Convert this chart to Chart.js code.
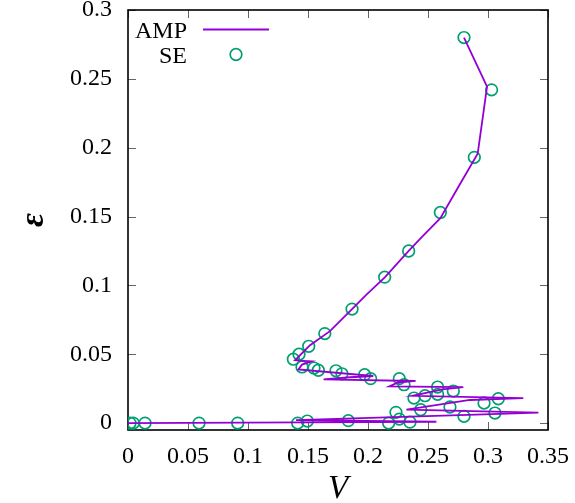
<!DOCTYPE html>
<html><head><meta charset="utf-8">
<style>html,body{margin:0;padding:0;background:#fff}#wrap{width:575px;height:503px}</style>
<script src="https://cdn.jsdelivr.net/npm/chart.js@4"></script>
</head><body><div id="wrap"><canvas id="c" width="575" height="503"></canvas></div>
<script>
const xTicks = [0, 0.05, 0.1, 0.15, 0.2, 0.25, 0.3, 0.35];
const xTickLabels = ['0', '0.05', '0.1', '0.15', '0.2', '0.25', '0.3', '0.35'];
const yTicks = [0, 0.05, 0.1, 0.15, 0.2, 0.25, 0.3];
const yTickLabels = ['0', '0.05', '0.1', '0.15', '0.2', '0.25', '0.3'];

// AMP trajectory (in drawing order)
const ampV = [0.280, 0.2992, 0.2914, 0.2767, 0.2603, 0.2458, 0.2339, 0.2142, 0.1983, 0.1867, 0.1683, 0.1517, 0.1392,
  0.153, 0.145, 0.142, 0.2044, 0.185, 0.163, 0.2397, 0.225, 0.2178, 0.2794, 0.262, 0.237, 0.3294, 0.285, 0.232, 0.342, 0.29, 0.140, 0.257, 0.145, 0.0];
const ampE = [0.280, 0.2443, 0.1956, 0.1737, 0.1488, 0.1359, 0.125, 0.106, 0.093, 0.0828, 0.0668, 0.0566, 0.0456,
  0.0448, 0.0425, 0.0390, 0.0342, 0.0333, 0.0318, 0.0306, 0.0295, 0.0266, 0.0262, 0.0245, 0.0198, 0.0182, 0.0168, 0.0098, 0.0076, 0.0062, 0.0022, 0.0010, 0.0005, 0.0];

// SE points
const seV = [0.280, 0.303, 0.2886, 0.2603, 0.2339, 0.2139, 0.1867, 0.164, 0.1506, 0.1425, 0.1378, 0.145, 0.155, 0.1586,
  0.1733, 0.1783, 0.1972, 0.2022, 0.2261, 0.230, 0.258, 0.258, 0.2711, 0.2475, 0.2383, 0.3086, 0.2967, 0.2683, 0.2439,
  0.2233, 0.3058, 0.280, 0.2261, 0.235, 0.2172, 0.1836, 0.1494, 0.1414, 0.0914, 0.0592, 0.0142, 0.0044, 0.0017];
const seE = [0.280, 0.242, 0.193, 0.153, 0.125, 0.106, 0.0828, 0.065, 0.0558, 0.050, 0.0464, 0.0408, 0.040, 0.0384,
  0.0380, 0.0358, 0.0352, 0.0323, 0.0323, 0.0279, 0.0262, 0.0209, 0.0233, 0.0199, 0.0182, 0.0177, 0.0146, 0.0117, 0.0097,
  0.0078, 0.0073, 0.0049, 0.0029, 0.0007, 0.0, 0.0018, 0.0015, 0.0, 0.0, 0.0, 0.0, 0.0, 0.0];

const PURPLE = '#9400d3';
const GREEN = '#009e73';
const SERIF = '"Liberation Serif", "DejaVu Serif", serif';

const zeroPad = s => { s.paddingTop = 0; s.paddingBottom = 0; s.paddingLeft = 0; s.paddingRight = 0; };

const framePlugin = {
  id: 'frame',
  beforeDatasetsDraw(chart) {
    const {ctx, chartArea: a, scales: {x, y}} = chart;
    ctx.save();
    ctx.strokeStyle = '#666';
    ctx.lineWidth = 1;
    ctx.beginPath();
    const L = 8;
    x.ticks.forEach(t => {
      const px = Math.round(x.getPixelForValue(t.value)) + 0.5;
      ctx.moveTo(px, a.bottom); ctx.lineTo(px, a.bottom - L);
      ctx.moveTo(px, a.top); ctx.lineTo(px, a.top + L);
    });
    y.ticks.forEach(t => {
      const py = Math.round(y.getPixelForValue(t.value)) + 0.5;
      ctx.moveTo(a.left, py); ctx.lineTo(a.left + L, py);
      ctx.moveTo(a.right, py); ctx.lineTo(a.right - L, py);
    });
    ctx.stroke();
    ctx.strokeStyle = '#000';
    ctx.lineWidth = 1.6;
    ctx.strokeRect(a.left, a.top, a.width, a.height);
    ctx.restore();
  },
  afterDraw(chart) {
    const {ctx} = chart;
    const ds = chart.data.datasets;
    ctx.save();
    ctx.font = '24px ' + SERIF;
    ctx.fillStyle = '#000';
    ctx.textAlign = 'right';
    ctx.textBaseline = 'alphabetic';
    ctx.fillText(ds[0].label, 187, 37.5);
    ctx.fillText(ds[1].label, 187, 63);
    ctx.strokeStyle = ds[0].borderColor;
    ctx.lineWidth = ds[0].borderWidth;
    ctx.beginPath(); ctx.moveTo(203, 29.5); ctx.lineTo(269, 29.5); ctx.stroke();
    ctx.strokeStyle = ds[1].borderColor;
    ctx.lineWidth = ds[1].pointBorderWidth;
    ctx.beginPath(); ctx.arc(236, 54.5, ds[1].pointRadius, 0, Math.PI * 2); ctx.stroke();
    ctx.restore();
  }
};

new Chart(document.getElementById('c'), {
  type: 'scatter',
  data: {
    datasets: [
      {
        label: 'AMP',
        data: ampV.map((v, i) => ({x: v, y: ampE[i]})),
        showLine: true,
        borderColor: PURPLE,
        backgroundColor: PURPLE,
        borderWidth: 1.8,
        pointRadius: 0,
        tension: 0,
        fill: false
      },
      {
        label: 'SE',
        data: seV.map((v, i) => ({x: v, y: seE[i]})),
        showLine: false,
        borderColor: GREEN,
        backgroundColor: 'rgba(0,0,0,0)',
        pointRadius: 5.8,
        pointBorderWidth: 1.7,
        pointStyle: 'circle'
      }
    ]
  },
  options: {
    responsive: false,
    animation: false,
    devicePixelRatio: 1,
    layout: {padding: {top: 10, right: 27, left: 0, bottom: 0}},
    plugins: {legend: {display: false}, tooltip: {enabled: false}},
    scales: {
      x: {
        type: 'linear', min: 0, max: 0.35,
        afterBuildTicks: s => { s.ticks = xTicks.map(v => ({value: v})); },
        afterFit: s => { s.height = 73; zeroPad(s); },
        grid: {display: false, drawTicks: false},
        border: {display: false},
        ticks: {autoSkip: false, maxRotation: 0, padding: 12, color: '#000',
          font: {family: SERIF, size: 24, lineHeight: 1.2},
          callback: (v, i) => xTickLabels[i]},
        title: {display: true, text: 'V', color: '#000',
          font: {family: SERIF, size: 33, style: 'italic', lineHeight: 0.8},
          padding: {top: 0, bottom: 0}}
      },
      y: {
        type: 'linear', min: -0.005, max: 0.3,
        afterBuildTicks: s => { s.ticks = yTicks.map(v => ({value: v})); },
        afterFit: s => { s.width = 128; zeroPad(s); },
        grid: {display: false, drawTicks: false},
        border: {display: false},
        ticks: {autoSkip: false, padding: 16, color: '#000',
          font: {family: SERIF, size: 24, lineHeight: 0.8},
          callback: (v, i) => yTickLabels[i]},
        title: {display: true, text: 'ε', color: '#000',
          font: {family: SERIF, size: 34, style: 'italic', weight: 'bold', lineHeight: 0.8},
          padding: {top: 21, bottom: 0}}
      }
    }
  },
  plugins: [framePlugin]
});
</script>
</body></html>
